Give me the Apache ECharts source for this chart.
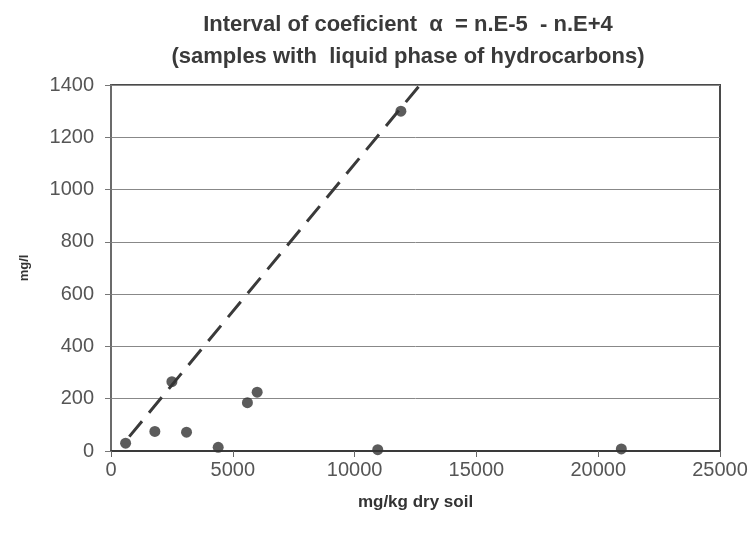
<!DOCTYPE html>
<html><head><meta charset="utf-8">
<script src="https://cdn.jsdelivr.net/npm/echarts@6/dist/echarts.min.js"></script>
<style>html,body{margin:0;padding:0;background:#fff}#c{width:756px;height:534px}</style>
</head><body><div id="c"></div>
<script>
const sampleX = [600, 1800, 2500, 3100, 4400, 5600, 6000, 10950, 20950, 11900];
const sampleY = [30, 75, 265, 72, 14, 185, 225, 5, 8, 1300];
const trendX = [750, 12680];
const trendY = [55, 1400];
const xTicks = [0, 5000, 10000, 15000, 20000, 25000];
const yTicks = [0, 200, 400, 600, 800, 1000, 1200, 1400];

const chart = echarts.init(document.getElementById('c'), null, {renderer: 'canvas'});
chart.setOption({
  backgroundColor: '#ffffff',
  animation: false,
  title: [{
    text: 'Interval of coeficient  α  = n.E-5  - n.E+4\n(samples with  liquid phase of hydrocarbons)',
    left: 403, top: 4, textAlign: 'center',
    textStyle: {fontFamily: 'Liberation Sans, Arial', fontWeight: 'bold', fontSize: 22, color: '#3a3a3a', lineHeight: 32}
  }],
  grid: {left: 111, right: 36, top: 85, bottom: 83, show: true, borderColor: '#4a4a4a', borderWidth: 2, backgroundColor: '#fff'},
  xAxis: {
    type: 'value', min: xTicks[0], max: xTicks[xTicks.length - 1], interval: 5000,
    name: 'mg/kg dry soil', nameLocation: 'middle', nameGap: 43,
    nameTextStyle: {fontFamily: 'Liberation Sans, Arial', fontWeight: 'bold', fontSize: 17, color: '#333'},
    axisLine: {show: true, lineStyle: {color: '#3a3a3a', width: 2}},
    axisTick: {show: true, length: 6, lineStyle: {color: '#666'}},
    splitLine: {show: false},
    axisLabel: {fontFamily: 'Liberation Sans, Arial', fontSize: 20, color: '#555', margin: 9, formatter: v => String(v)}
  },
  yAxis: {
    type: 'value', min: yTicks[0], max: yTicks[yTicks.length - 1], interval: 200,
    name: 'mg/l', nameLocation: 'middle', nameGap: 80, nameRotate: 90,
    nameTextStyle: {fontFamily: 'Liberation Sans, Arial', fontWeight: 'bold', fontSize: 13, color: '#333'},
    axisLine: {show: true, lineStyle: {color: '#777', width: 1.5}},
    axisTick: {show: true, length: 6, lineStyle: {color: '#777'}},
    splitLine: {show: true, lineStyle: {color: '#888', width: 1}},
    axisLabel: {fontFamily: 'Liberation Sans, Arial', fontSize: 20, color: '#555', margin: 17, formatter: v => String(v)}
  },
  series: [
    {
      type: 'line', data: trendX.map((x, i) => [x, trendY[i]]),
      showSymbol: false, symbol: 'none',
      lineStyle: {color: '#3a3a3a', width: 3, type: [20, 11]},
      z: 2
    },
    {
      type: 'scatter', data: sampleX.map((x, i) => [x, sampleY[i]]),
      symbol: 'circle', symbolSize: 11,
      itemStyle: {color: '#333'},
      z: 3
    }
  ]
});
</script></body></html>
